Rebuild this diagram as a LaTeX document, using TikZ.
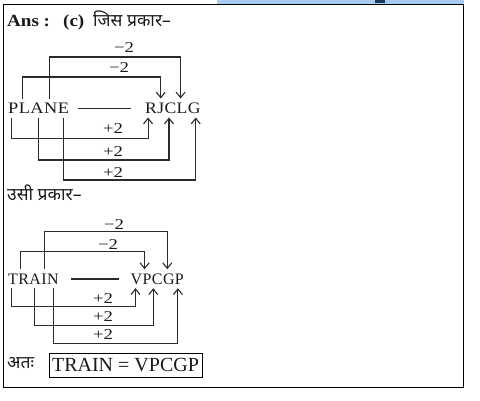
\documentclass[tikz,border=0pt]{standalone}
\usepackage{fontspec}
\setmainfont{Liberation Serif}
\newfontfamily\devfont[Script=Devanagari]{Noto Sans}
\newfontfamily\widea[FakeStretch=1.15]{Liberation Serif}
\newfontfamily\wideb[FakeStretch=1.1]{Liberation Serif}
\newfontfamily\widelbl[FakeStretch=1.25]{Liberation Serif}
\newfontfamily\widehead[FakeStretch=1.12]{Liberation Serif}
\usetikzlibrary{arrows.meta}
\definecolor{txt}{HTML}{1A1A1A}
\definecolor{ln}{HTML}{2B2B2B}
\definecolor{barblue}{HTML}{A9CBEF}
\definecolor{bardark}{HTML}{1F3A5A}
\begin{document}
\begin{tikzpicture}[x=1pt,y=-1pt,
  ltr/.style={anchor=base west, inner xsep=0pt, inner ysep=4pt, text height=10.6pt, text depth=0pt, font=\fontsize{16}{16}\selectfont, text=txt},
  ltra/.style={ltr, font=\widea\fontsize{16}{16}\selectfont},
  ltrb/.style={ltr, font=\wideb\fontsize{16}{16}\selectfont},
  lbl/.style={font=\widelbl\fontsize{15}{15}\selectfont, inner sep=0pt, text=txt},
  conn/.style={draw=ln, line width=1.1pt, -{Straight Barb[length=5.5pt,width=9pt]}},
  dashln/.style={draw=ln, line width=1.1pt},
  head/.style={anchor=base west, inner sep=0pt, text=txt, font=\widehead\bfseries\fontsize{17}{17}\selectfont},
  dev/.style={anchor=base west, inner sep=0pt, text=txt, font=\devfont\fontsize{17.5}{17.5}\selectfont}]
\useasboundingbox (0,0) rectangle (480,400);
% frame and top bar
\fill[barblue] (217,0) rectangle (463.5,4);
\fill[bardark] (375,0) rectangle (385,3);
\draw[line width=1pt, draw=black] (3,4) rectangle (463.5,387);
% header
\node[head] (ans) at (7,26) {Ans :};
\node[head] (opt) at (63,26) {(c)};
\node[dev] (jis) at (93,26) {जिस प्रकार–};
% ---------- diagram 1 ----------
\node[ltra] (a1) at (8,113.3) {P};
\node[ltra] (a2) at (a1.base east) {L};
\node[ltra] (a3) at (a2.base east) {A};
\node[ltra] (a4) at (a3.base east) {N};
\node[ltra] (a5) at (a4.base east) {E};
\node[ltrb] (b1) at (145,113.3) {R};
\node[ltrb] (b2) at (b1.base east) {J};
\node[ltrb] (b3) at (b2.base east) {C};
\node[ltrb] (b4) at (b3.base east) {L};
\node[ltrb] (b5) at (b4.base east) {G};
\coordinate (m1a) at (78,108.7);
\coordinate (m1b) at (131,108.7);
\draw[dashln] (m1a) -- (m1b);
\coordinate (u1) at (0,57);
\coordinate (u2) at (0,77);
\coordinate (w1) at (0,138.3);
\coordinate (w2) at (0,160);
\coordinate (w3) at (0,180);
\draw[conn] ([xshift=-1.5pt]a4.north) -- ([xshift=-1.5pt]a4.north |- u1) -| ([xshift=-1.5pt]b4.north);
\draw[conn] ([xshift=-2pt]a2.north) -- ([xshift=-2pt]a2.north |- u2) -| (b2.north);
\draw[conn] ([xshift=-2pt]a1.south) -- ([xshift=-2pt]a1.south |- w1) -| ([xshift=-3pt]b1.south);
\draw[conn] ([xshift=1pt]a3.south) -- ([xshift=1pt]a3.south |- w2) -| ([xshift=-1.5pt]b3.south);
\draw[conn] (a5.south) -- (a5.south |- w3) -| ([xshift=1.5pt]b5.south);
\node[lbl] (l1) at (124,47.5) {−2};
\node[lbl] (l2) at (119,68) {−2};
\node[lbl] (l3) at (113,129) {+2};
\node[lbl] (l4) at (113,151.3) {+2};
\node[lbl] (l5) at (113,172.5) {+2};
% ---------- middle text ----------
\node[dev] (usi) at (7,200) {उसी प्रकार–};
% ---------- diagram 2 ----------
\node[ltr] (c1) at (8,284) {T};
\node[ltr] (c2) at (c1.base east) {R};
\node[ltr] (c3) at (c2.base east) {A};
\node[ltr] (c4) at (c3.base east) {I};
\node[ltr] (c5) at (c4.base east) {N};
\node[ltr] (d1) at (130.5,284) {V};
\node[ltr] (d2) at (d1.base east) {P};
\node[ltr] (d3) at (d2.base east) {C};
\node[ltr] (d4) at (d3.base east) {G};
\node[ltr] (d5) at (d4.base east) {P};
\coordinate (m2a) at (71,279);
\coordinate (m2b) at (119,279);
\draw[dashln] (m2a) -- (m2b);
\coordinate (u3) at (0,231.7);
\coordinate (u4) at (0,251.7);
\coordinate (w4) at (0,306.7);
\coordinate (w5) at (0,325.7);
\coordinate (w6) at (0,343.3);
\draw[conn] (c4.north) -- (c4.north |- u3) -| ([xshift=-1.5pt]d4.north);
\draw[conn] ([xshift=-3pt]c2.north) -- ([xshift=-3pt]c2.north |- u4) -| ([xshift=-2.5pt]d2.north);
\draw[conn] ([xshift=-2pt]c1.south) -- ([xshift=-2pt]c1.south |- w4) -| ([xshift=-1pt]d1.south);
\draw[conn] ([xshift=-1pt]c3.south) -- ([xshift=-1pt]c3.south |- w5) -| ([xshift=-4pt]d3.south);
\draw[conn] ([xshift=1pt]c5.south) -- ([xshift=1pt]c5.south |- w6) -| ([xshift=-1.5pt]d5.south);
\node[lbl] (l6) at (114,224.7) {−2};
\node[lbl] (l7) at (108,244.7) {−2};
\node[lbl] (l8) at (103,298.3) {+2};
\node[lbl] (l9) at (103,317) {+2};
\node[lbl] (l10) at (103,335) {+2};
% ---------- conclusion ----------
\node[dev] (ata) at (7,368) {अतः};
\node[draw=black, line width=0.8pt, minimum width=153pt, minimum height=24pt, inner sep=0pt, text=txt, font=\fontsize{20}{20}\selectfont] (res) at (125.5,365) {TRAIN = VPCGP};
\end{tikzpicture}
\end{document}
